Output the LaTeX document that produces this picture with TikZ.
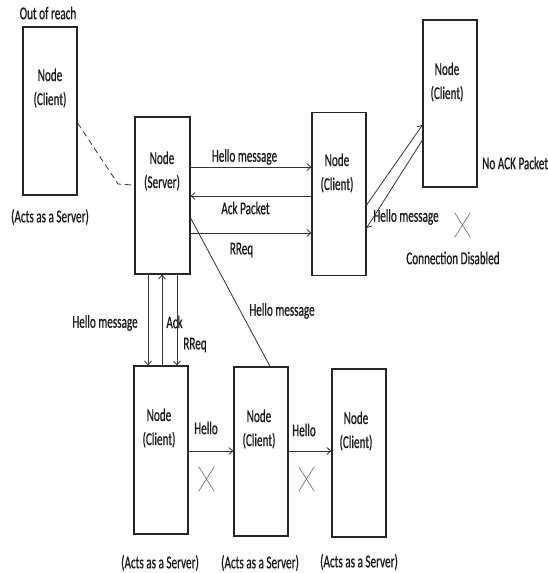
\documentclass[tikz,border=0pt]{standalone}
\usepackage{fontspec}
\setmainfont{Carlito}[FakeStretch=0.62,FakeBold=0.6]
\usetikzlibrary{arrows.meta,shapes.misc}
\begin{document}
\begin{tikzpicture}[x=1pt,y=-1pt,
  box/.style={draw=black!85,line width=1.2pt,inner sep=0pt,minimum width=54pt},
  lbl/.style={inner sep=0pt,align=center,font=\fontsize{18}{24}\selectfont,text=black!90},
  conn/.style={draw=black!80,line width=0.8pt},
  arr/.style={conn,-{Straight Barb[length=4pt,width=7pt]}},
  xmark/.style={cross out,draw=black!60,line width=0.6pt,minimum width=15pt,minimum height=24pt,inner sep=0pt}]
\useasboundingbox (0,0) rectangle (547,573);
% boxes
\node[box,minimum height=168pt] (A) at (50,111) {};
\node[box,minimum width=55pt,minimum height=157pt] (S) at (162.5,195.5) {};
\node[box,minimum height=163pt] (B) at (339,194) {};
\node[box,minimum height=167pt] (C) at (450,103.5) {};
\node[box,minimum height=168pt] (D) at (161,450) {};
\node[box,minimum height=169pt] (E) at (261,451.5) {};
\node[box,minimum height=168pt] (F) at (359,453) {};
% box texts
\node[lbl] (tA) at (50,88) {Node\\(Client)};
\node[lbl] (tS) at (162,171) {Node\\(Server)};
\node[lbl] (tB) at (337,173) {Node\\(Client)};
\node[lbl] (tC) at (447,82) {Node\\(Client)};
\node[lbl] (tD) at (159,428) {Node\\(Client)};
\node[lbl] (tE) at (259,429) {Node\\(Client)};
\node[lbl] (tF) at (356,431) {Node\\(Client)};
% other labels
\node[lbl] (l1) at (48,13) {Out of reach};
\node[lbl] (l2) at (50,217) {(Acts as a Server)};
\node[lbl] (l3) at (244.5,157) {Hello message};
\node[lbl] (l4) at (245.5,208) {Ack Packet};
\node[lbl] (l5) at (241.5,250) {RReq};
\node[lbl,anchor=west] (l6) at (482,163) {No ACK Packet};
\node[lbl] (l7) at (406,217) {Hello message};
\node[lbl] (l8) at (453,258) {Connection Disabled};
\node[lbl] (l9) at (105,323) {Hello message};
\node[lbl] (l10) at (174.5,322) {Ack};
\node[lbl] (l11) at (195,345) {RReq};
\node[lbl] (l12) at (282,311) {Hello message};
\node[lbl] (l13) at (206,428) {Hello};
\node[lbl] (l14) at (304,430) {Hello};
\node[lbl] (l15) at (160,563) {(Acts as a Server)};
\node[lbl] (l16) at (260,563) {(Acts as a Server)};
\node[lbl] (l17) at (359,562) {(Acts as a Server)};
% crosses
\node[xmark] (x1) at (462.5,225) {};
\node[xmark] (x2) at (206.5,479) {};
\node[xmark] (x3) at (306.5,479) {};
% helper coordinates
\coordinate (y123) at (0,123);
\coordinate (y185) at (0,185);
\coordinate (y167) at (0,167);
\coordinate (y196) at (0,196);
\coordinate (y233) at (0,233);
\coordinate (y205) at (0,205);
\coordinate (y125) at (0,125);
\coordinate (y140) at (0,140);
\coordinate (y228) at (0,228);
\coordinate (y218) at (0,218);
\coordinate (y451) at (0,451);
\coordinate (x148) at (148,0);
\coordinate (x162) at (162,0);
\coordinate (x177) at (177,0);
\coordinate (x270) at (270,0);
\coordinate (dbend) at (118,184);
\coordinate (dend) at (133,185);
% dashed link
\draw[conn,dashed,dash pattern=on 6pt off 4pt] (A.east |- y123) -- (dbend) -- (dend);
% server <-> B
\draw[arr] (S.east |- y167) -- (B.west |- y167);
\draw[arr] (B.west |- y196) -- (S.east |- y196);
\draw[arr] (S.east |- y233) -- (B.west |- y233);
% B <-> C
\draw[arr] (B.east |- y205) -- (C.west |- y125);
\draw[arr] (C.west |- y140) -- (B.east |- y228);
% server <-> D
\draw[arr] (S.south -| x148) -- (D.north -| x148);
\draw[arr] (D.north -| x162) -- (S.south -| x162);
\draw[arr] (S.south -| x177) -- (D.north -| x177);
% server to E
\draw[conn] (S.east |- y218) -- (E.north -| x270);
% bottom hello
\draw[arr] (D.east |- y451) -- (E.west |- y451);
\draw[arr] (E.east |- y451) -- (F.west |- y451);
\end{tikzpicture}
\end{document}
